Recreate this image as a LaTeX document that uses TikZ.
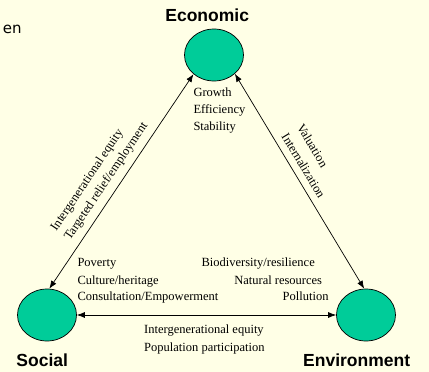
\documentclass[tikz,border=0pt]{standalone}
\usepackage{fontspec}
\setmainfont{Liberation Serif}
\newfontfamily\arialfont{Liberation Sans}
\newfontfamily\dejafont{DejaVu Sans}
\usetikzlibrary{shapes.geometric,arrows.meta}
\definecolor{bgyellow}{RGB}{255,255,230}
\definecolor{pillarfill}{RGB}{0,204,153}
\begin{document}
\begin{tikzpicture}[x=1pt,y=-1pt,
  pillar/.style={ellipse,draw=black,line width=0.7pt,fill=pillarfill,minimum width=59pt,minimum height=52pt,inner sep=0pt},
  title/.style={font=\arialfont\bfseries\fontsize{17.5}{20}\selectfont,inner sep=0pt,anchor=base},
  item/.style={font=\fontsize{12.5}{14}\selectfont,inner sep=0pt},
  link/.style={{Latex[length=8pt,width=6pt]}-{Latex[length=8pt,width=6pt]},line width=0.7pt}]
\useasboundingbox (0,0) rectangle (429,372);
\fill[bgyellow] (0,0) rectangle (429,372);

\node[pillar] (eco) at (214,55) {};
\node[pillar] (soc) at (47,315) {};
\node[pillar] (env) at (366,315) {};

\node[title] (teco) at (207.2,21.7) {Economic};
\node[title] (tsoc) at (42.2,366.7) {Social};
\node[title] (tenv) at (356.7,366.7) {Environment};
\node[font=\dejafont\fontsize{15}{17}\selectfont,inner sep=0pt,anchor=base east] (cut) at (21.9,33.3) {en};

\draw[link] (soc.85.8) -- (eco.223.6);
\draw[link] (eco.-42.1) -- (env.94.4);
\draw[link] (soc.0) -- (env.180);

\node[item,anchor=base west] (g1) at (193.3,96.7) {Growth};
\node[item,anchor=base west] (g2) at (193.3,113.3) {Efficiency};
\node[item,anchor=base west] (g3) at (193.3,130) {Stability};

\node[item,anchor=base west] (s1) at (77.3,266.7) {Poverty};
\node[item,anchor=base west] (s2) at (77.3,284) {Culture/heritage};
\node[item,anchor=base west] (s3) at (77.3,300.7) {Consultation/Empowerment};

\node[item,anchor=base east] (e1) at (315,266.7) {Biodiversity/resilience};
\node[item,anchor=base east] (e2) at (322.3,284) {Natural resources};
\node[item,anchor=base east] (e3) at (328.7,300.7) {Pollution};

\node[item,anchor=base west] (b1) at (144,333.3) {Intergenerational equity};
\node[item,anchor=base west] (b2) at (144,351) {Population participation};

\node[item,font=\fontsize{12.5}{16.5}\selectfont,align=left,rotate=56] (lblock) at (99.6,177) {Intergenerational equity\\Targeted relief/employment};
\node[item,font=\fontsize{12.5}{18}\selectfont,align=left,rotate=-59] (rblock) at (311.3,161) {Valuation\\Internalization};
\end{tikzpicture}
\end{document}
